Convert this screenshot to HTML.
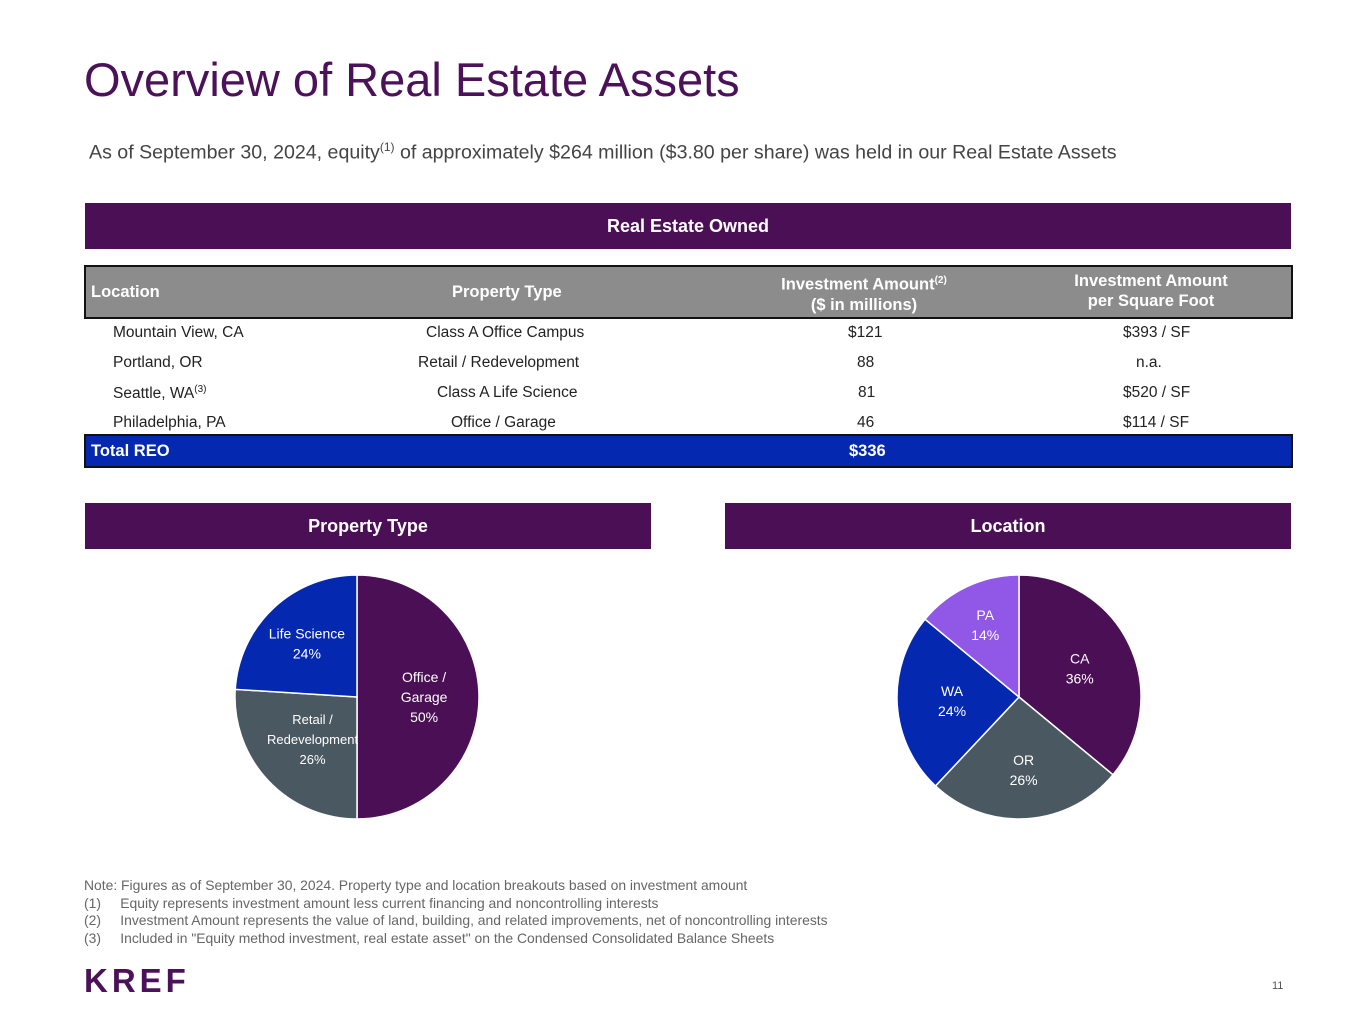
<!DOCTYPE html>
<html><head><meta charset="utf-8"><style>
body{margin:0;background:#fff;font-family:"Liberation Sans",sans-serif;}
#page{position:relative;width:1365px;height:1024px;overflow:hidden;}
.abs{position:absolute;}
.bar{background:#4b0f55;color:#fff;font-weight:bold;font-size:18px;text-align:center;line-height:46px;}
.row{position:absolute;left:85px;width:1206px;height:30px;font-size:15.5px;color:#222;}
.row span{position:absolute;top:6px;}
</style></head><body><div id="page">
<div class="abs" style="left:84px;top:52px;font-size:47px;color:#4b1259;">Overview of Real Estate Assets</div>
<div class="abs" style="left:89px;top:140px;font-size:19.6px;color:#444;">As of September 30, 2024, equity<sup style="font-size:12px">(1)</sup> of approximately $264 million ($3.80 per share) was held in our Real Estate Assets</div>
<div class="abs bar" style="left:85px;top:203px;width:1206px;height:46px;">Real Estate Owned</div>
<div class="abs" style="left:84px;top:265px;width:1205px;height:50px;background:#8c8c8c;border:2px solid #111;color:#fff;font-weight:bold;font-size:16.5px;">
<span class="abs" style="left:5px;top:16px">Location</span>
<span class="abs" style="left:366px;top:16px">Property Type</span>
<span class="abs" style="left:688px;top:4px;width:180px;text-align:center;line-height:20px">Investment Amount<sup style="font-size:10px">(2)</sup><br>($ in millions)</span>
<span class="abs" style="left:970px;top:4px;width:190px;text-align:center;line-height:20px">Investment Amount<br>per Square Foot</span>
</div>
<div class="row" style="top:318px"><span style="left:28px">Mountain View, CA</span><span style="left:341px">Class A Office Campus</span><span style="left:763px">$121</span><span style="left:1038px">$393 / SF</span></div>
<div class="row" style="top:348px"><span style="left:28px">Portland, OR</span><span style="left:333px">Retail / Redevelopment</span><span style="left:772px">88</span><span style="left:1051px">n.a.</span></div>
<div class="row" style="top:378px"><span style="left:28px">Seattle, WA<sup style="font-size:10px">(3)</sup></span><span style="left:352px">Class A Life Science</span><span style="left:773px">81</span><span style="left:1038px">$520 / SF</span></div>
<div class="row" style="top:408px"><span style="left:28px">Philadelphia, PA</span><span style="left:366px">Office / Garage</span><span style="left:772px">46</span><span style="left:1038px">$114 / SF</span></div>
<div class="abs" style="left:84px;top:434px;width:1205px;height:30px;background:#0428b0;border:2px solid #111;color:#fff;font-weight:bold;font-size:16.5px;">
<span class="abs" style="left:5px;top:6px">Total REO</span><span class="abs" style="left:763px;top:6px">$336</span></div>
<div class="abs bar" style="left:85px;top:503px;width:566px;height:46px;">Property Type</div>
<div class="abs bar" style="left:725px;top:503px;width:566px;height:46px;">Location</div>
<svg id="pies" class="abs" style="left:0;top:0" width="1365" height="1024"></svg>
<div class="abs" style="left:84px;top:877px;font-size:13.9px;color:#666;line-height:17.7px;">
Note: Figures as of September 30, 2024. Property type and location breakouts based on investment amount<br>
(1)&nbsp;&nbsp;&nbsp;&nbsp;&nbsp;Equity represents investment amount less current financing and noncontrolling interests<br>
(2)&nbsp;&nbsp;&nbsp;&nbsp;&nbsp;Investment Amount represents the value of land, building, and related improvements, net of noncontrolling interests<br>
(3)&nbsp;&nbsp;&nbsp;&nbsp;&nbsp;Included in "Equity method investment, real estate asset" on the Condensed Consolidated Balance Sheets</div>
<div class="abs" style="left:84px;top:962px;font-size:33px;font-weight:bold;color:#4b1259;letter-spacing:4px;">KREF</div>
<div class="abs" style="left:1272px;top:980px;font-size:11px;color:#555;">11</div>
</div>
<script>
const ptCategories=["Office / Garage","Retail / Redevelopment","Life Science"];
const ptValues=[50,26,24];
const ptColors=["#4b0f55","#4a5862","#0428b0"];
const ptLabelLines=[["Office /","Garage","50%"],["Retail /","Redevelopment","26%"],["Life Science","24%"]];
const locCategories=["CA","OR","WA","PA"];
const locValues=[36,26,24,14];
const locColors=["#4b0f55","#4a5862","#0428b0","#9157e6"];
const svg=document.getElementById('pies');
const NS="http://www.w3.org/2000/svg";
function pie(cx,cy,r,vals,cols,labels,lfrac,fs){
  const tot=vals.reduce((a,b)=>a+b,0);let a0=0;
  vals.forEach((v,i)=>{
    const a1=a0+v/tot*2*Math.PI;
    const x0=cx+r*Math.sin(a0),y0=cy-r*Math.cos(a0),x1=cx+r*Math.sin(a1),y1=cy-r*Math.cos(a1);
    const p=document.createElementNS(NS,'path');
    p.setAttribute('d',`M${cx},${cy}L${x0},${y0}A${r},${r} 0 ${a1-a0>Math.PI?1:0} 1 ${x1},${y1}Z`);
    p.setAttribute('fill',cols[i]);p.setAttribute('stroke','#fff');p.setAttribute('stroke-width','1.5');
    
    
    svg.appendChild(p);
    const am=(a0+a1)/2,lx=cx+r*lfrac[i]*Math.sin(am),ly=cy-r*lfrac[i]*Math.cos(am);
    const t=document.createElementNS(NS,'text');
    
    
    t.setAttribute('fill','#fff');t.setAttribute('font-size',fs[i]);t.setAttribute('text-anchor','middle');
    const ls=labels[i];
    ls.forEach((s,j)=>{const ts=document.createElementNS(NS,'tspan');ts.setAttribute('x',lx);ts.setAttribute('y',ly+(j-(ls.length-1)/2)*20+5);ts.textContent=s;t.appendChild(ts);});
    svg.appendChild(t);a0=a1;
  });
}
pie(357,697,122,ptValues,ptColors,ptLabelLines,[0.55,0.5,0.6],[14,13,14]);
pie(1019,697,122,locValues,locColors,locCategories.map((c,i)=>[c,locValues[i]+'%']),[0.55,0.6,0.55,0.65],[14,14,14,14]);
</script>
</body></html>
